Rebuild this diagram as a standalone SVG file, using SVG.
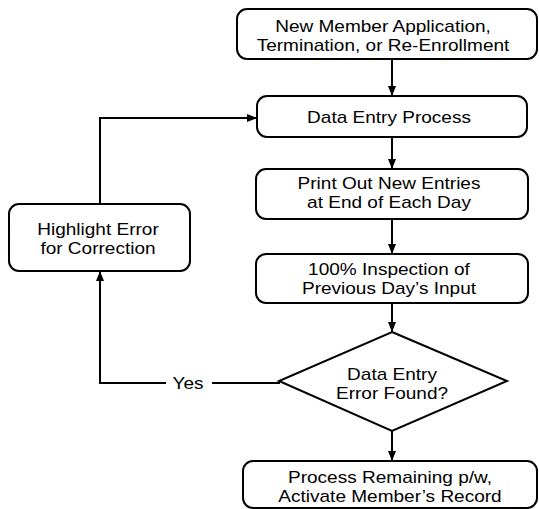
<svg xmlns="http://www.w3.org/2000/svg" width="539" height="509" viewBox="0 0 539 509">
<style>
.box{fill:#fff;stroke:#000;stroke-width:2}
.t{font-family:"Liberation Sans",Arial,sans-serif;font-size:17px;fill:#000;text-anchor:middle}
.ln{fill:none;stroke:#000;stroke-width:2}
</style>
<defs>
<marker id="ah" markerWidth="10" markerHeight="10" viewBox="0 0 10 10" refX="10" refY="5" orient="auto" markerUnits="userSpaceOnUse">
<path d="M0,1 L10,5 L0,9 Z" fill="#000"/>
</marker>
</defs>
<rect width="539" height="509" fill="#fff"/>
<g id="connectors">
<line class="ln" x1="392" y1="59" x2="392" y2="96" marker-end="url(#ah)"/>
<line class="ln" x1="392" y1="137" x2="392" y2="169" marker-end="url(#ah)"/>
<line class="ln" x1="392" y1="219" x2="392" y2="254" marker-end="url(#ah)"/>
<line class="ln" x1="392" y1="303" x2="392" y2="332" marker-end="url(#ah)"/>
<line class="ln" x1="392" y1="431" x2="392" y2="461" marker-end="url(#ah)"/>
<polyline class="ln" points="100,204 100,118 257,118" marker-end="url(#ah)"/>
<polyline class="ln" points="166,383 100,383 100,271" marker-end="url(#ah)"/>
<line class="ln" x1="212" y1="383" x2="280" y2="383"/>
<text class="t" transform="translate(188,389) scale(1.12,1)">Yes</text>
</g>
<g id="n1">
<rect class="box" x="237" y="9" width="300" height="50" rx="10"/>
<text class="t" transform="translate(383,32) scale(1.12,1)">New Member Application,</text>
<text class="t" transform="translate(383,51) scale(1.12,1)">Termination, or Re-Enrollment</text>
</g>
<g id="n2">
<rect class="box" x="257" y="96" width="270" height="41" rx="10"/>
<text class="t" transform="translate(389,123) scale(1.12,1)">Data Entry Process</text>
</g>
<g id="n3">
<rect class="box" x="256" y="169" width="272" height="50" rx="10"/>
<text class="t" transform="translate(389,189) scale(1.12,1)">Print Out New Entries</text>
<text class="t" transform="translate(389,208) scale(1.12,1)">at End of Each Day</text>
</g>
<g id="n4">
<rect class="box" x="256" y="254" width="272" height="49" rx="10"/>
<text class="t" transform="translate(389,275) scale(1.12,1)">100% Inspection of</text>
<text class="t" transform="translate(389,294) scale(1.12,1)">Previous Day’s Input</text>
</g>
<g id="n5">
<polygon class="box" points="392,332 507,381 392,431 279,381"/>
<text class="t" transform="translate(392,380) scale(1.12,1)">Data Entry</text>
<text class="t" transform="translate(392,399) scale(1.12,1)">Error Found?</text>
</g>
<g id="n6">
<rect class="box" x="243" y="461" width="294" height="47" rx="10"/>
<text class="t" transform="translate(390,483) scale(1.12,1)">Process Remaining p/w,</text>
<text class="t" transform="translate(390,502) scale(1.12,1)">Activate Member’s Record</text>
</g>
<g id="n7">
<rect class="box" x="9" y="204" width="181" height="67" rx="10"/>
<text class="t" transform="translate(98,235) scale(1.12,1)">Highlight Error</text>
<text class="t" transform="translate(98,254) scale(1.12,1)">for Correction</text>
</g>
</svg>
